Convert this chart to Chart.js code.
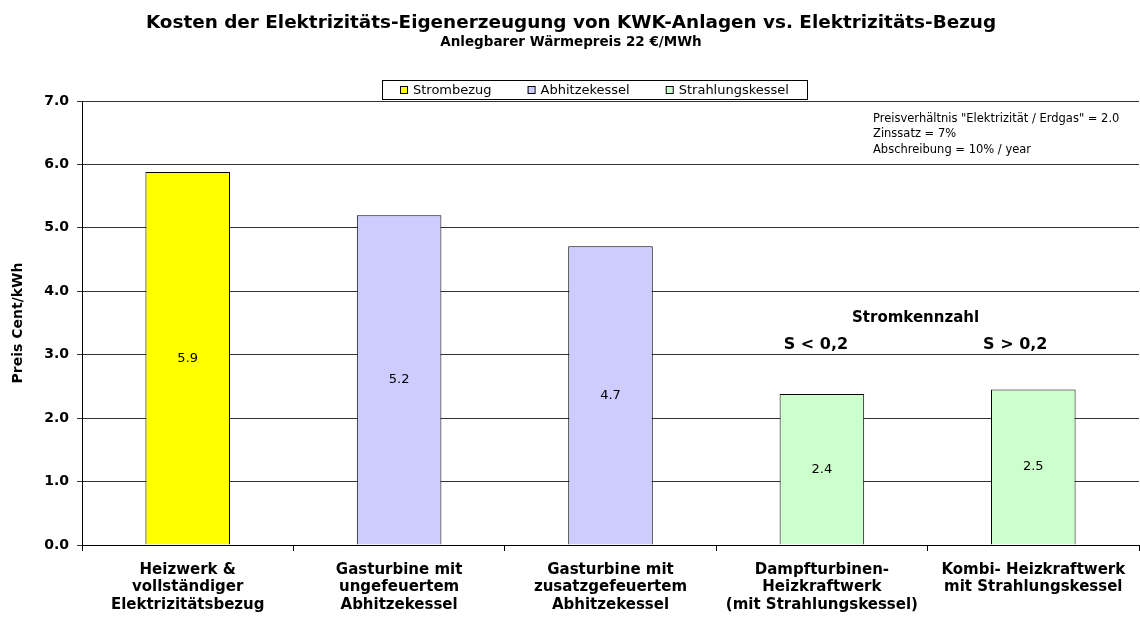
<!DOCTYPE html>
<html>
<head>
<meta charset="utf-8">
<script src="https://cdn.jsdelivr.net/npm/chart.js@4.4.1/dist/chart.umd.min.js"></script>
<style>
  body { margin: 0; background: #fff; }
  #wrap { width: 1140px; height: 619px; }
</style>
</head>
<body>
<div id="wrap"><canvas id="chart" width="1140" height="619"></canvas></div>
<script>
const categories = [
  ["Heizwerk &", "vollständiger", "Elektrizitätsbezug"],
  ["Gasturbine mit", "ungefeuertem", "Abhitzekessel"],
  ["Gasturbine mit", "zusatzgefeuertem", "Abhitzekessel"],
  ["Dampfturbinen-", "Heizkraftwerk", "(mit Strahlungskessel)"],
  ["Kombi- Heizkraftwerk", "mit Strahlungskessel"],
];
const strombezug = [5.88, null, null, null, null];
const abhitzekessel = [null, 5.2, 4.71, null, null];
const strahlungskessel = [null, null, null, 2.38, 2.45];
const valueLabels = ["5.9", "5.2", "4.7", "2.4", "2.5"];
const yTicks = [0, 1, 2, 3, 4, 5, 6, 7];

const titleText = "Kosten der Elektrizitäts-Eigenerzeugung von KWK-Anlagen vs. Elektrizitäts-Bezug";
const subtitleText = "Anlegbarer Wärmepreis 22 €/MWh";
const noteLines = [
  'Preisverhältnis "Elektrizität / Erdgas" = 2.0',
  "Zinssatz = 7%",
  "Abschreibung = 10% / year",
];

const FONT = "'DejaVu Sans', sans-serif";

// titles, legend box, notes and value labels
const decorations = {
  id: "decorations",
  afterDatasetsDraw(chart) {
    const ctx = chart.ctx;
    const x = chart.scales.x;
    ctx.save();
    ctx.fillStyle = "#000";
    ctx.textAlign = "center";
    ctx.textBaseline = "alphabetic";
    ctx.font = "bold 18.4px " + FONT;
    ctx.fillText(titleText, 571, 28);
    ctx.font = "bold 13.5px " + FONT;
    ctx.fillText(subtitleText, 571, 46);

    // legend
    ctx.font = "13px " + FONT;
    const sq = 7, gap = 6, between = 36, pad = 18;
    const widths = chart.data.datasets.map(d => sq + gap + ctx.measureText(d.label).width);
    const total = widths.reduce((a, b) => a + b, 0) + between * (widths.length - 1) + pad * 2;
    const lx = Math.round(594 - total / 2);
    const ly = 80, lh = 19;
    ctx.strokeStyle = "#000";
    ctx.lineWidth = 1;
    ctx.strokeRect(lx + 0.5, ly + 0.5, Math.round(total), lh);
    let cx = lx + pad;
    ctx.textAlign = "left";
    ctx.textBaseline = "middle";
    chart.data.datasets.forEach((d, i) => {
      const sy = Math.round(ly + lh / 2 - sq / 2);
      ctx.fillStyle = d.backgroundColor;
      ctx.fillRect(cx, sy, sq, sq);
      ctx.strokeStyle = "#000";
      ctx.strokeRect(cx + 0.5, sy + 0.5, sq, sq);
      ctx.fillStyle = "#000";
      ctx.fillText(d.label, cx + sq + gap, ly + lh / 2 + 1);
      cx += widths[i] + between;
    });

    // notes top right
    ctx.font = "11.5px " + FONT;
    noteLines.forEach((t, i) => ctx.fillText(t, 873, 119 + i * 15.5));

    // Stromkennzahl
    ctx.textAlign = "center";
    ctx.font = "bold 15px " + FONT;
    ctx.fillText("Stromkennzahl", (x.getPixelForValue(3) + x.getPixelForValue(4)) / 2 - 12, 318);
    ctx.font = "bold 16px " + FONT;
    ctx.fillText("S < 0,2", x.getPixelForValue(3) - 6, 345);
    ctx.fillText("S > 0,2", x.getPixelForValue(4) - 18, 345);

    // value labels in the middle of each bar
    ctx.font = "13px " + FONT;
    chart.data.datasets.forEach((d, di) => {
      chart.getDatasetMeta(di).data.forEach((bar, i) => {
        if (d.data[i] == null) return;
        ctx.fillText(valueLabels[i], bar.x, (bar.y + bar.base) / 2);
      });
    });
    ctx.restore();
  },
};

new Chart(document.getElementById("chart"), {
  type: "bar",
  data: {
    labels: categories,
    datasets: [
      { label: "Strombezug", data: strombezug, backgroundColor: "#FFFF00" },
      { label: "Abhitzekessel", data: abhitzekessel, backgroundColor: "#CCCCFF" },
      { label: "Strahlungskessel", data: strahlungskessel, backgroundColor: "#CCFFCC" },
    ].map(d => ({ ...d, borderColor: "#000", borderWidth: 1, categoryPercentage: 1, barPercentage: 0.4 })),
  },
  options: {
    responsive: false,
    animation: false,
    layout: { padding: { top: 101, right: 1, left: 0, bottom: 0 } },
    plugins: { legend: { display: false }, title: { display: false }, tooltip: { enabled: false } },
    scales: {
      x: {
        stacked: true,
        offset: true,
        grid: { offset: true, drawOnChartArea: false, drawTicks: true, tickLength: 6, color: "#000" },
        border: { color: "#000" },
        ticks: {
          color: "#000",
          padding: 10,
          maxRotation: 0,
          autoSkip: false,
          font: { family: FONT, size: 15, weight: "bold", lineHeight: 1.17 },
        },
        afterFit(scale) { scale.height = 74; },
      },
      y: {
        stacked: true,
        min: 0,
        max: 7,
        afterBuildTicks(scale) { scale.ticks = yTicks.map(v => ({ value: v })); },
        grid: { color: "#333", tickLength: 5 },
        border: { color: "#000" },
        ticks: {
          color: "#000",
          padding: 8,
          font: { family: FONT, size: 14, weight: "bold" },
          callback: v => v.toFixed(1),
        },
        title: {
          display: true,
          text: "Preis Cent/kWh",
          color: "#000",
          font: { family: FONT, size: 14, weight: "bold" },
          padding: { top: 10, bottom: 0 },
        },
        afterFit(scale) { scale.width = 82; },
      },
    },
  },
  plugins: [decorations],
});
</script>
</body>
</html>
